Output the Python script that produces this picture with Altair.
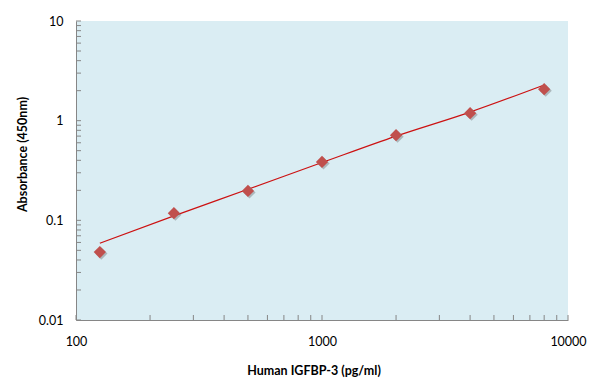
import altair as alt
import pandas as pd

conc = [125, 250, 500, 1000, 2000, 4000, 8000]
absorb = [0.048, 0.118, 0.197, 0.385, 0.715, 1.19, 2.07]
fit = [0.059, 0.111, 0.205, 0.38, 0.70, 1.22, 2.28]

x_ticks = [100, 200, 300, 400, 500, 600, 700, 800, 900,
           1000, 2000, 3000, 4000, 5000, 6000, 7000, 8000, 9000, 10000]
y_ticks = [0.01, 0.02, 0.03, 0.04, 0.05, 0.06, 0.07, 0.08, 0.09,
           0.1, 0.2, 0.3, 0.4, 0.5, 0.6, 0.7, 0.8, 0.9,
           1, 2, 3, 4, 5, 6, 7, 8, 9, 10]
x_labels = [100, 1000, 10000]
y_labels = [0.01, 0.1, 1, 10]

pts = pd.DataFrame({"x": conc, "y": absorb})
line_df = pd.DataFrame({"x": conc, "y": fit})
xt = pd.DataFrame({"x": x_ticks})
yt = pd.DataFrame({"y": y_ticks})

xs = alt.Scale(type="log", domain=[100, 10000], nice=False)
ys = alt.Scale(type="log", domain=[0.01, 10], nice=False)

FONT = "Lato"
AX = "#868686"

xaxis = alt.Axis(values=x_labels, format="d", ticks=False, grid=False,
                 labelFlush=False, labelOverlap=False,
                 domainColor=AX, labelFont=FONT, labelFontSize=12.5,
                 labelColor="black", labelPadding=15,
                 title="Human IGFBP-3 (pg/ml)", titleFont=FONT,
                 titleFontSize=12.5, titleFontWeight="bold", titleColor="black",
                 titleX=237.5, titleY=50, titleBaseline="middle",
                 titleAlign="center")
yaxis = alt.Axis(values=y_labels,
                 labelExpr="datum.value >= 1 ? format(datum.value, 'd') : format(datum.value, '~g')",
                 ticks=False, grid=False, labelFlush=False, labelOverlap=False,
                 domainColor=AX, labelFont=FONT, labelFontSize=12.5,
                 labelColor="black", labelPadding=13,
                 title="Absorbance (450nm)", titleFont=FONT,
                 titleFontSize=12.5, titleFontWeight="bold", titleColor="black",
                 titleX=-54, titleY=133, titleBaseline="middle",
                 titleAlign="center", titleAngle=270)

shadow = alt.Chart(pts).mark_point(shape="diamond", filled=True, size=150,
                                   color="#555555", opacity=0.35,
                                   xOffset=1.5, yOffset=1.5).encode(
    x=alt.X("x:Q", scale=xs, axis=xaxis),
    y=alt.Y("y:Q", scale=ys, axis=yaxis))

points = alt.Chart(pts).mark_point(shape="diamond", filled=True, size=150,
                                   color="#C0504D", opacity=1).encode(
    x=alt.X("x:Q", scale=xs), y=alt.Y("y:Q", scale=ys))

line = alt.Chart(line_df).mark_line(color="#CC1111", strokeWidth=1.2,
                                    interpolate="monotone").encode(
    x=alt.X("x:Q", scale=xs), y=alt.Y("y:Q", scale=ys))

xtick = alt.Chart(xt).mark_rule(color=AX, strokeWidth=1).encode(
    x=alt.X("x:Q", scale=xs), y=alt.value(299), y2=alt.value(294))
ytick = alt.Chart(yt).mark_rule(color=AX, strokeWidth=1).encode(
    y=alt.Y("y:Q", scale=ys), x=alt.value(0), x2=alt.value(5))

chart = alt.layer(xtick, ytick, line, shadow, points).properties(
    width=492, height=299,
    padding={"left": 68, "top": 13, "right": 20, "bottom": 62},
    autosize=alt.AutoSizeParams(type="none"),
).configure_view(fill="#DAEDF3", stroke=None)

chart.save("out.html", embed_options={"renderer": "svg", "actions": False})
